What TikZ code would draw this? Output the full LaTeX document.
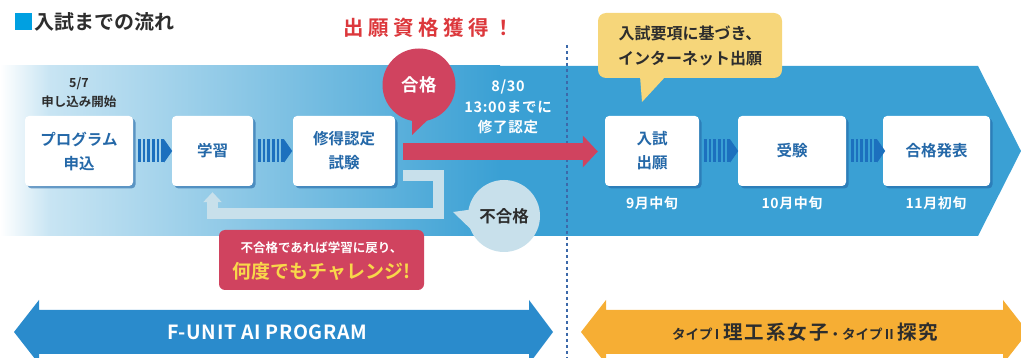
\documentclass[tikz,border=0pt]{standalone}
\usepackage{fontspec}
\setmainfont{Noto Sans CJK JP}[BoldFont={Noto Sans CJK JP Bold}]
\usetikzlibrary{arrows.meta,shadows}
\definecolor{bandblue}{RGB}{58,160,212}
\definecolor{boxtext}{RGB}{36,104,168}
\definecolor{stripe}{RGB}{28,112,190}
\definecolor{passred}{RGB}{208,67,95}
\definecolor{failblue}{RGB}{200,224,235}
\definecolor{notegold}{RGB}{246,214,122}
\definecolor{progblue}{RGB}{42,139,204}
\definecolor{typeorange}{RGB}{246,174,52}
\definecolor{titlecyan}{RGB}{0,160,225}
\definecolor{darktext}{RGB}{45,45,45}
\definecolor{headred}{RGB}{220,56,60}
\definecolor{cheeryellow}{RGB}{248,216,74}
\definecolor{dashblue}{RGB}{60,105,170}
\tikzset{
  stepbox/.style={fill=white, rounded corners=4pt, minimum height=70pt, inner sep=0pt,
    drop shadow={shadow xshift=2.5pt, shadow yshift=-2.5pt, fill=boxtext, opacity=0.6},
    text=boxtext, align=center, font=\bfseries\fontsize{15.5}{24}\selectfont},
  datelabel/.style={text=white, font=\bfseries\fontsize{14}{14}\selectfont\addfontfeature{LetterSpace=4}},
}
\newcommand{\stripes}[1]{
  \begin{scope}[shift={(#1.east)}]
  \foreach \k in {0,...,5} \fill[stripe] (5+\k*4.6,-11.5) rectangle ++(2.6,23);
  \fill[stripe] (31,-11.5) -- (39,0) -- (31,11.5) -- cycle;
  \end{scope}
}

\begin{document}
\begin{tikzpicture}[x=1pt,y=-1pt]
\useasboundingbox (0,0) rectangle (1021,358);
\fill[bandblue] (0,66) -- (978,66) -- (1021,151) -- (978,236) -- (0,236) -- cycle;
\shade[left color=white, right color=bandblue!28] (0,66) rectangle (50,236);
\shade[left color=bandblue!28, right color=bandblue] (50,66) rectangle (500,236);
\draw[dashblue, line width=1.3pt, dash pattern=on 3pt off 3pt] (567,45) -- (567,358);

\fill[titlecyan] (15,13) rectangle (32,30);
\node[anchor=west, inner sep=0pt, text=darktext, font=\bfseries\fontsize{20}{20}\selectfont] (title) at (34,22) {入試までの流れ};
\node[text=headred, font=\bfseries\fontsize{20.5}{20}\selectfont\addfontfeature{LetterSpace=22}] (gain) at (429,28) {出願資格獲得！};

\node[stepbox, minimum width=108pt] (apply) at (79,151) {プログラム\\申込};
\node[stepbox, minimum width=81pt] (study) at (212.5,151) {学習};
\node[stepbox, minimum width=102pt] (exam) at (344,151) {修得認定\\試験};
\node[stepbox, minimum width=94pt] (entry) at (652,151) {入試\\出願};
\node[stepbox, minimum width=108pt] (test) at (792,151) {受験};
\node[stepbox, minimum width=107pt] (result) at (936.5,151) {合格発表};
\stripes{apply}
\stripes{study}
\stripes{entry}
\stripes{test}

\node[align=center, text=darktext, font=\bfseries\fontsize{12.5}{19}\selectfont] (start) at (79,93) {5/7\\申し込み開始};
\node[align=center, text=white, font=\bfseries\fontsize{14.5}{20.5}\selectfont\addfontfeature{LetterSpace=5}] (deadline) at (508,107) {8/30\\13:00までに\\修了認定};
\node[datelabel] (sep) at (652,203) {9月中旬};
\node[datelabel] (oct) at (792,203) {10月中旬};
\node[datelabel] (nov) at (936,203) {11月初旬};

\draw[failblue, line width=11pt, -{Triangle[length=10pt,width=18pt]}] ([xshift=8pt,yshift=-25pt]exam.east) -| (438,214) -| ([yshift=-6pt]study.south);
\draw[passred, line width=17pt, -{Triangle[length=15pt,width=31pt]}] ([xshift=8pt,yshift=-0.5pt]exam.east) -- ([xshift=-7pt,yshift=-0.5pt]entry.west);

\fill[passred] (412,108) -- (412,135) -- (436,112) -- cycle;
\node[circle, fill=passred, minimum size=73pt, text=white, font=\bfseries\fontsize{17.5}{17}\selectfont\addfontfeature{LetterSpace=5}] (pass) at (419,85) {合格};
\fill[failblue] (453,212) -- (482,208) -- (480,238) -- cycle;
\node[circle, fill=failblue, minimum size=72pt, text=darktext, font=\bfseries\fontsize{16.5}{16}\selectfont] (fail) at (504,216) {不合格};

\node[fill=passred, rounded corners=6pt, minimum width=205pt, minimum height=60pt] (retry) at (321.5,260) {};
\node[text=white, font=\bfseries\fontsize{12.5}{12.5}\selectfont] (retrytop) at (321.5,248) {不合格であれば学習に戻り、};
\node[text=cheeryellow, font=\bfseries\fontsize{19}{19}\selectfont] (retrybottom) at (321.5,271) {何度でもチャレンジ!};

\fill[notegold] (640,76) -- (642,102) -- (666,76) -- cycle;
\node[fill=notegold, rounded corners=8pt, minimum width=184pt, minimum height=65pt, align=center, text=darktext, font=\bfseries\fontsize{16}{25}\selectfont] (note) at (690,45.5) {入試要項に基づき、\\インターネット出願};

\fill[progblue] (14,332) -- (39,300) -- (39,310) -- (529,310) -- (529,300) -- (553,332) -- (529,364) -- (529,354) -- (39,354) -- (39,364) -- cycle;
\node[text=white, font=\bfseries\fontsize{19.5}{19}\selectfont\addfontfeature{LetterSpace=3}] (prog) at (267,332) {F-UNIT AI PROGRAM};
\fill[typeorange] (581,332) -- (606,300) -- (606,310) -- (1003,310) -- (1003,300) -- (1028,332) -- (1003,364) -- (1003,354) -- (606,354) -- (606,364) -- cycle;
\node[text=darktext, font=\bfseries] (types) at (805,332) {{\fontsize{13.5}{13}\selectfont タイプ\,I}\hspace{4pt}{\fontsize{19.5}{19}\selectfont\addfontfeature{LetterSpace=10}理工系女子}{\fontsize{13.5}{13}\selectfont ・タイプ\,II}\hspace{4pt}{\fontsize{19.5}{19}\selectfont\addfontfeature{LetterSpace=5}探究}};
\end{tikzpicture}
\end{document}
